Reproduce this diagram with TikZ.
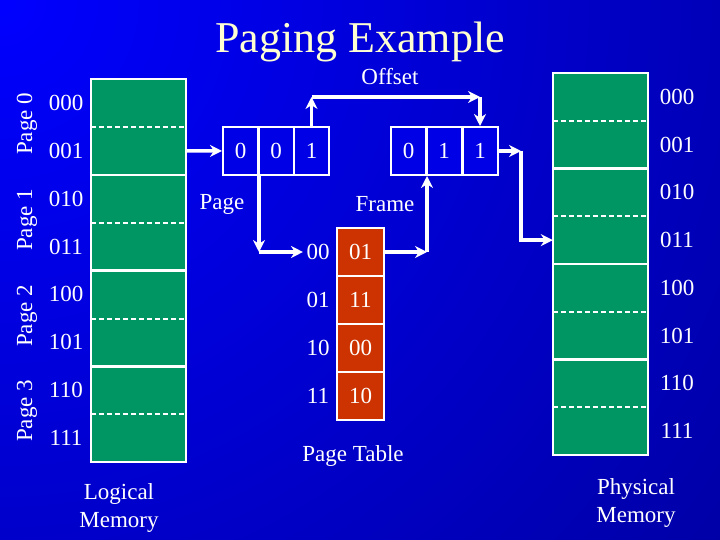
\documentclass[tikz,border=0pt]{standalone}
\usepackage{fontspec}
\setmainfont{Liberation Serif}
\usetikzlibrary{arrows.meta,calc}
\definecolor{bgbright}{RGB}{0,0,255}
\definecolor{bgdark}{RGB}{0,0,128}
\definecolor{memgreen}{RGB}{0,150,100}
\definecolor{ptred}{RGB}{204,51,0}
\definecolor{addrblue}{RGB}{0,0,230}
\definecolor{titlecol}{RGB}{255,255,210}
\begin{document}
\begin{tikzpicture}[x=1pt,y=-1pt,
  every node/.style={text=white, font=\fontsize{23}{28}\selectfont},
  memrow/.style={fill=memgreen, minimum width=95pt, minimum height=#1, inner sep=0pt, draw=none},
  memborder/.style={draw=white, line width=2.5pt},
  memsolid/.style={draw=white, line width=2.5pt},
  memdash/.style={draw=white, line width=2pt, dash pattern=on 5pt off 3pt},
  addrbox/.style={fill=addrblue, draw=white, line width=2pt, minimum width=35pt, minimum height=48pt, inner sep=0pt},
  ptbox/.style={fill=ptred, draw=white, line width=2pt, minimum width=47pt, minimum height=48pt, inner sep=0pt},
  conn/.style={draw=white, line width=3.5pt, -{Stealth[length=12pt,width=12pt]}},
  plain/.style={draw=white, line width=3.5pt}]
\useasboundingbox (0,0) rectangle (720,540);
\begin{scope}
  \clip (0,0) rectangle (720,540);
  \shade[inner color=bgbright, outer color=bgdark] (0,0) circle (1300);
\end{scope}

% title
\node[text=titlecol, font=\fontsize{44}{50}\selectfont] (title) at (360,42) {Paging Example};

% logical memory
\foreach \i in {0,...,7}
  \node[memrow=47.9pt] (lm\i) at (138.5,{79+47.875*(\i+0.5)}) {};
\foreach \i in {0,2,4,6}
  \draw[memdash] (lm\i.south west) -- (lm\i.south east);
\foreach \i in {1,3,5}
  \draw[memsolid] (lm\i.south west) -- (lm\i.south east);
\draw[memborder] (lm0.north west) rectangle (lm7.south east);
\foreach \i/\t in {0/000,1/001,2/010,3/011,4/100,5/101,6/110,7/111}
  \node (ll\i) at (66,{79+47.875*(\i+0.5)}) {\t};
\foreach \i/\y in {0/124,1/220,2/316,3/411}
  \node[rotate=90] (pg\i) at (27,\y) {Page \i};
\node[align=center] (lmlabel) at (119,508) {Logical\\Memory};

% physical memory
\foreach \i in {0,...,7}
  \node[memrow=47.8pt] (pm\i) at (600.5,{73+47.75*(\i+0.5)}) {};
\foreach \i in {0,2,4,6}
  \draw[memdash] (pm\i.south west) -- (pm\i.south east);
\foreach \i in {1,3,5}
  \draw[memsolid] (pm\i.south west) -- (pm\i.south east);
\draw[memborder] (pm0.north west) rectangle (pm7.south east);
\foreach \i/\t in {0/000,1/001,2/010,3/011,4/100,5/101,6/110,7/111}
  \node (pl\i) at (677,{73+47.75*(\i+0.5)}) {\t};
\node[align=center] (pmlabel) at (636,503) {Physical\\Memory};

% logical address
\node[addrbox] (la0) at (240.5,151) {0};
\node[addrbox] (la1) at (276,151) {0};
\node[addrbox] (la2) at (311.5,151) {1};
% physical address
\node[addrbox] (pa0) at (408.5,151) {0};
\node[addrbox] (pa1) at (444,151) {1};
\node[addrbox] (pa2) at (480,151) {1};

% page table
\foreach \i/\t/\f in {0/00/01,1/01/11,2/10/00,3/11/10}{
  \node[ptbox] (pt\i) at (360.5,{252+48*\i}) {\f};
  \node (ptl\i) at (318,{252+48*\i}) {\t};
}
\node (pttitle) at (353,456) {Page Table};

% labels
\node (offset) at (390,77) {Offset};
\node (pagelbl) at (222,204) {Page};
\node (framelbl) at (385,204) {Frame};

% connectors
\coordinate (oy) at (0,97);
\coordinate (o1) at (la2.north |- oy);
\coordinate (o2) at (pa2.north |- oy);
\draw[conn] (lm1.east) -- (la0.west);
\draw[conn] (la2.north) -- (o1);
\draw[conn] (o1) -- (o2);
\draw[conn] (o2) -- (pa2.north);

\coordinate (p1) at (la0.south east |- ptl0.west);
\draw[conn] (la0.south east) -- (p1);
\draw[conn] (p1) -- (ptl0.west);

\coordinate (f1) at (pa0.south east |- pt0.east);
\draw[conn] (pt0.east) -- (f1);
\draw[conn] (f1) -- (pa0.south east);

\coordinate (ox) at (521,0);
\coordinate (q1) at (ox |- pa2.east);
\coordinate (q2) at (ox |- pm3.west);
\draw[conn] (pa2.east) -- (q1);
\draw[plain] (q1) -- (q2);
\draw[conn] ([xshift=-1.75pt]q2) -- (pm3.west);
\end{tikzpicture}
\end{document}
